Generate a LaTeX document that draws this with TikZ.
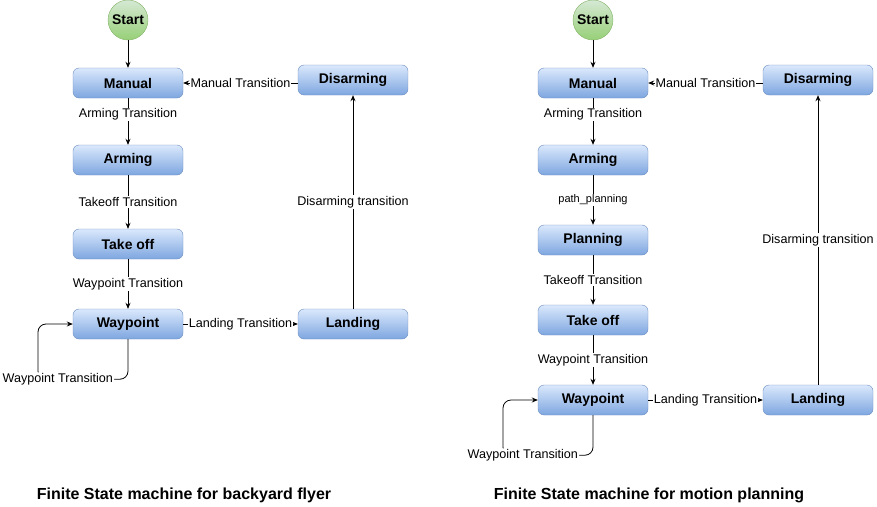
\documentclass[tikz,border=0pt]{standalone}
\usepackage{fontspec}
\setmainfont{Liberation Sans}
\definecolor{boxtop}{HTML}{DAE8FC}
\definecolor{boxbottom}{HTML}{7EA6E0}
\definecolor{boxline}{HTML}{6C8EBF}
\definecolor{starttop}{HTML}{D5E8D4}
\definecolor{startbottom}{HTML}{97D077}
\definecolor{startline}{HTML}{82B366}
\usetikzlibrary{positioning,arrows.meta}

\begin{document}
\begin{tikzpicture}[
    x=1pt, y=1pt,
    node distance=80pt,
    startnode/.style={circle, minimum size=40pt, inner sep=0pt, draw=startline, top color=starttop, bottom color=startbottom, font=\fontsize{14}{16}\selectfont\bfseries},
    state/.style={rectangle, rounded corners=6pt, minimum width=110pt, minimum height=30pt, text centered, draw=boxline, top color=boxtop, bottom color=boxbottom, font=\fontsize{14}{16}\selectfont\bfseries},
    lbl/.style={fill=white, inner sep=1pt, font=\fontsize{12.6}{14}\selectfont},
    caption/.style={font=\fontsize{16}{18}\selectfont\bfseries},
    arrow/.style={line width=0.8pt, ->, >={Stealth[length=6pt, width=5pt]}}
]
\useasboundingbox (0,0) rectangle (877,-506);

% Backyard flyer
\node (startA) [startnode] at (128,-20) {Start};
\node (manualA) [state, below of=startA, node distance=63pt] {Manual};
\node (armingA) [state, below of=manualA, node distance=77pt] {Arming};
\node (takeoffA) [state, below of=armingA, node distance=84pt] {Take off};
\node (waypointA) [state, below of=takeoffA] {Waypoint};
\node (landingA) [state, right of=waypointA, node distance=225pt] {Landing};
\node (disarmA) [state] at (353,-80) {Disarming};
\node (captionA) [caption] at (184,-495) {Finite State machine for backyard flyer};

\draw [arrow] (startA) -- (manualA);
\draw [arrow] (manualA) -- node[lbl, pos=0.35] {Arming Transition} (armingA);
\draw [arrow] (armingA) -- node[lbl] {Takeoff Transition} (takeoffA);
\draw [arrow] (takeoffA) -- node[lbl] {Waypoint Transition} (waypointA);
\draw [arrow] (waypointA) -- node[lbl] {Landing Transition} (landingA);
\draw [arrow] (landingA) -- node[lbl] {Disarming transition} (disarmA);
\draw [arrow] (disarmA.west |- manualA) -- node[lbl] {Manual Transition} (manualA.east);
\draw [arrow, rounded corners=8pt] (waypointA.south) |- node[lbl, pos=0.89] {Waypoint Transition} ++(-90,-40) |- (waypointA.west);

% Motion planning
\node (startB) [startnode] at (593,-20) {Start};
\node (manualB) [state, below of=startB, node distance=63pt] {Manual};
\node (armingB) [state, below of=manualB, node distance=77pt] {Arming};
\node (planningB) [state, below of=armingB] {Planning};
\node (takeoffB) [state, below of=planningB] {Take off};
\node (waypointB) [state, below of=takeoffB] {Waypoint};
\node (landingB) [state, right of=waypointB, node distance=225pt] {Landing};
\node (disarmB) [state] at (818,-80) {Disarming};
\node (captionB) [caption] at (649,-495) {Finite State machine for motion planning};

\draw [arrow] (startB) -- (manualB);
\draw [arrow] (manualB) -- node[lbl, pos=0.35] {Arming Transition} (armingB);
\draw [arrow] (armingB) -- node[lbl, font=\fontsize{11}{13}\selectfont] {path\_planning} (planningB);
\draw [arrow] (planningB) -- node[lbl] {Takeoff Transition} (takeoffB);
\draw [arrow] (takeoffB) -- node[lbl] {Waypoint Transition} (waypointB);
\draw [arrow] (waypointB) -- node[lbl] {Landing Transition} (landingB);
\draw [arrow] (landingB) -- node[lbl] {Disarming transition} (disarmB);
\draw [arrow] (disarmB.west |- manualB) -- node[lbl] {Manual Transition} (manualB.east);
\draw [arrow, rounded corners=8pt] (waypointB.south) |- node[lbl, pos=0.89] {Waypoint Transition} ++(-90,-40) |- (waypointB.west);

\end{tikzpicture}
\end{document}
